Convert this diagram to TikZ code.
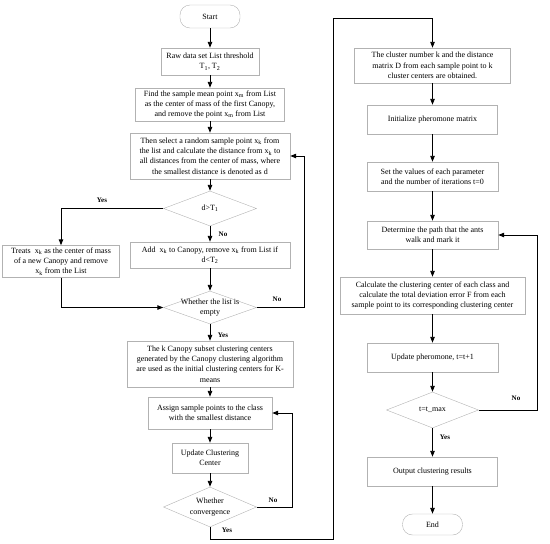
\documentclass[tikz,border=0pt]{standalone}
\usepackage{fontspec}
\setmainfont{Liberation Serif}
\usepackage{tikz}
\usetikzlibrary{shapes.geometric,arrows.meta}

\begin{document}
\begin{tikzpicture}[
  x=1pt, y=-1pt,
  box/.style={rectangle, draw=black!30, align=center, inner sep=1pt, font=\fontsize{8}{10.3}\selectfont},
  term/.style={box, rounded corners=10pt},
  dec/.style={diamond, draw=black!30, inner sep=0pt},
  dtext/.style={align=center, font=\fontsize{8}{10.3}\selectfont},
  lbl/.style={font=\bfseries\fontsize{7}{8}\selectfont},
  arr/.style={-{Triangle[length=6pt,width=4.5pt]}, line width=0.9pt}
]
\useasboundingbox (0,0) rectangle (550,544);

\node[term, minimum width=60pt, minimum height=23pt] (start) at (210,16.5) {Start};
\node[box, minimum width=98pt, minimum height=27pt] (raw) at (210,61.5) {Raw data set List threshold\\T\textsubscript{1}, T\textsubscript{2}};
\node[box, minimum width=149pt, minimum height=33pt] (find) at (210,104.5) {Find the sample mean point x\textsubscript{m} from List\\as the center of mass of the first Canopy,\\and remove the point x\textsubscript{m} from List};
\node[box, minimum width=160pt, minimum height=46pt] (select) at (210,156) {Then select a random sample point x\textsubscript{k} from\\the list and calculate the distance from x\textsubscript{k} to\\all distances from the center of mass, where\\the smallest distance is denoted as d};
\node[dec, minimum width=93pt, minimum height=35pt, label={[dtext]center:d>T\textsubscript{1}}] (d1) at (210,208.5) {};
\node[box, minimum width=117pt, minimum height=32pt] (treats) at (61,261.5) {Treats~ x\textsubscript{k} as the center of mass\\of a new Canopy and remove\\x\textsubscript{k} from the List};
\node[box, minimum width=160pt, minimum height=26pt] (add) at (210,255) {Add~ x\textsubscript{k} to Canopy, remove x\textsubscript{k} from List if\\d<T\textsubscript{2}};
\node[dec, minimum width=93pt, minimum height=33pt, label={[dtext]center:Whether the list is\\empty}] (empty) at (210,307.5) {};
\node[box, minimum width=166pt, minimum height=46pt] (kcan) at (210,364) {The k Canopy subset clustering centers\\generated by the Canopy clustering algorithm\\are used as the initial clustering centers for K-\\means};
\node[box, minimum width=124pt, minimum height=32pt] (assign) at (210,413) {Assign sample points to the class\\with the smallest distance};
\node[box, minimum width=76pt, minimum height=30pt] (update) at (210,458) {Update Clustering\\Center};
\node[dec, minimum width=93pt, minimum height=40pt, label={[dtext]center:Whether\\convergence}] (conv) at (210,507) {};

\node[box, minimum width=156pt, minimum height=35pt] (cluster) at (432.5,65.5) {The cluster number k and the distance\\matrix D from each sample point to k\\cluster centers are obtained.};
\node[box, minimum width=130pt, minimum height=29pt] (init) at (432.5,119.5) {Initialize pheromone matrix};
\node[box, minimum width=131pt, minimum height=29pt] (param) at (432.5,176.5) {Set the values of each parameter\\and the number of iterations t=0};
\node[box, minimum width=131pt, minimum height=28pt] (path) at (432.5,235) {Determine the path that the ants\\walk and mark it};
\node[box, minimum width=185pt, minimum height=37pt] (calc) at (432.5,295.5) {Calculate the clustering center of each class and\\calculate the total deviation error F from each\\sample point to its corresponding clustering center};
\node[box, minimum width=131pt, minimum height=29pt] (pher) at (432.5,357.5) {Update pheromone, t=t+1};
\node[dec, minimum width=92pt, minimum height=36pt, label={[dtext]center:t=t\_max}] (tmax) at (432.5,410) {};
\node[box, minimum width=130pt, minimum height=29pt] (output) at (432.5,471.5) {Output clustering results};
\node[term, minimum width=60pt, minimum height=21pt] (end) at (432.5,524.5) {End};

\node[lbl] (ly1) at (102,200) {Yes};
\node[lbl] (ln1) at (223,234) {No};
\node[lbl] (ln2) at (277,299) {No};
\node[lbl] (ly2) at (223,335) {Yes};
\node[lbl] (ln3) at (273,500) {No};
\node[lbl] (ly3) at (227,530) {Yes};
\node[lbl] (ln4) at (516,398) {No};
\node[lbl] (ly4) at (445,437) {Yes};

\foreach \a/\b in {start/raw, raw/find, find/select, select/d1, d1/add, add/empty,
  empty/kcan, kcan/assign, assign/update, update/conv,
  cluster/init, init/param, param/path, path/calc, calc/pher, pher/tmax, tmax/output, output/end}
  \draw[arr] (\a) -- (\b);

\draw[arr] (d1.west) -| (treats.north);
\draw[arr] (treats.south) |- (empty.west);
\draw[arr] (empty.east) -- ++(48,0) |- (select.east);
\draw[arr] (conv.east) -- ++(36,0) |- (assign.east);
\coordinate (jb) at (333,539);
\coordinate (jt) at (333,18);
\draw[arr] (conv.south) |- (jb) -- (jt) -| (cluster.north);
\draw[arr] (tmax.east) -- ++(59,0) |- (path.east);
\end{tikzpicture}
\end{document}
